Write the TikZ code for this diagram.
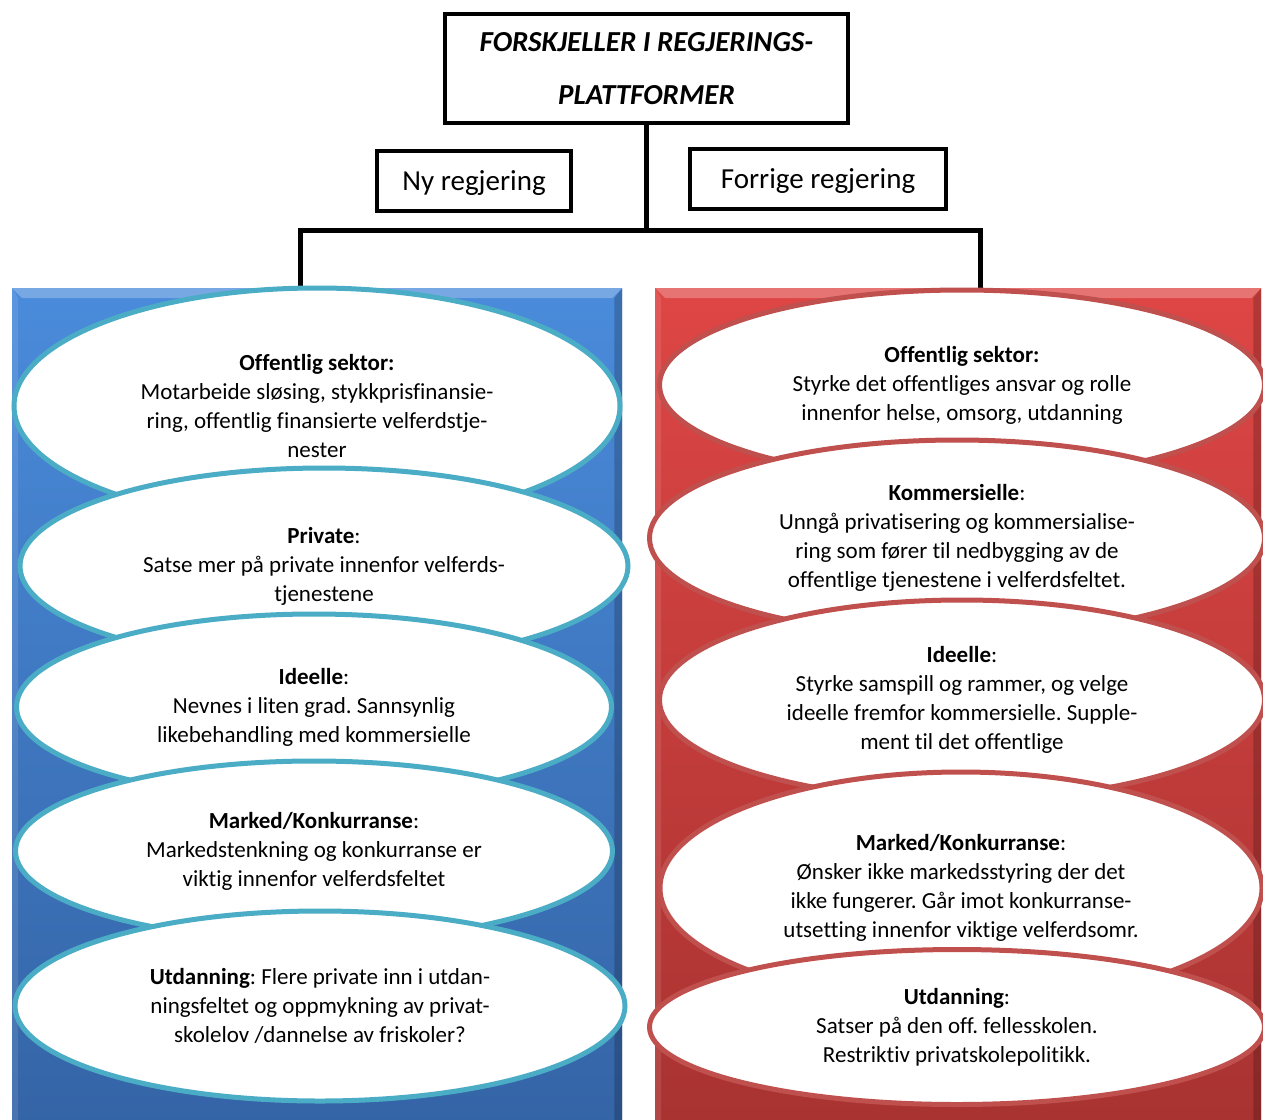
\documentclass[tikz,border=0pt]{standalone}
\usepackage{fontspec}
\setmainfont{Carlito}[Ligatures=NoCommon]
\usetikzlibrary{positioning, shapes.geometric}
\frenchspacing

\definecolor{bluetop}{HTML}{4A8BDB}
\definecolor{bluebot}{HTML}{3464A6}
\definecolor{redtop}{HTML}{DE4645}
\definecolor{redbot}{HTML}{A83331}
\definecolor{cyanline}{HTML}{4BACC6}
\definecolor{redline}{HTML}{C0504D}

\begin{document}
\begin{tikzpicture}[
			x=1pt, y=-1pt,
			every node/.style={font=\fontsize{23}{29}\selectfont},
			panel/.style={minimum height=840, anchor=north west, inner sep=0pt},
			bubble/.style={ellipse, fill=white, line width=5pt, align=center, inner sep=0pt},
			lell/.style={bubble, draw=cyanline},
			rell/.style={bubble, draw=redline},
			hdr/.style={draw, line width=4pt, minimum height=60, text depth=0pt, font=\fontsize{29}{35}\selectfont},
			conn/.style={line width=5pt}
		]
		\useasboundingbox (0,0) rectangle (1263,1119);
		% the two columns
		\node[panel, minimum width=610, top color=bluetop, bottom color=bluebot] (blue) at (12,288) {};
		\node[panel, minimum width=606, top color=redtop, bottom color=redbot] (red) at (655,288) {};
		\foreach \p in {blue,red} {
			\fill[white, opacity=0.25] (\p.north west) -- (\p.north east) -- ([shift={(-10,10)}]\p.north east) -- ([shift={(10,10)}]\p.north west) -- cycle;
			\fill[black, opacity=0.2] (\p.north east) -- (\p.south east) -- ([shift={(-8,-8)}]\p.south east) -- ([shift={(-8,10)}]\p.north east) -- cycle;
			\fill[white, opacity=0.1] (\p.north west) -- (\p.south west) -- ([shift={(6,-6)}]\p.south west) -- ([shift={(6,10)}]\p.north west) -- cycle;
		}

		% heading
		\node[hdr, minimum width=403, minimum height=109, font=\fontsize{29}{53}\selectfont\bfseries\itshape, align=center] (title) at (646.5,68) {FORSKJELLER I REGJERINGS-\\PLATTFORMER};
		\node[hdr, minimum width=194] (ny) at (474,181) {Ny regjering};
		\node[hdr, minimum width=256] (forrige) at (818,179) {Forrige regjering};

		\coordinate (bar) at (643,230);
		\draw[conn] (title.south) -- (title.south |- bar);
		\draw[conn] ([xshift=-17pt]blue.north) |- (bar) -| ([xshift=22pt]red.north);

		% ny regjering
		\node[lell, minimum width=606, minimum height=236] (l1) at (317,406) {\textbf{Offentlig sektor:}\\Motarbeide sløsing, stykkprisfinansie-\\ring, offentlig finansierte velferdstje-\\nester};
		\node[lell, minimum width=608, minimum height=196] (l2) at (324,566) {\textbf{Private}:\\Satse mer på private innenfor velferds-\\tjenestene};
		\node[lell, minimum width=595, minimum height=186] (l3) at (314,707) {\textbf{Ideelle}:\\Nevnes i liten grad. Sannsynlig\\likebehandling med kommersielle};
		\node[lell, minimum width=597, minimum height=180] (l4) at (314,851) {\textbf{Marked/Konkurranse}:\\Markedstenkning og konkurranse er\\viktig innenfor velferdsfeltet};
		\node[lell, minimum width=610, minimum height=190] (l5) at (320,1006) {\textbf{Utdanning}: Flere private inn i utdan-\\ningsfeltet og oppmykning av privat-\\skolelov /dannelse av friskoler?};

		% forrige regjering
		\node[rell, minimum width=605, minimum height=190] (r1) at (962,385) {\textbf{Offentlig sektor:}\\Styrke det offentliges ansvar og rolle\\innenfor helse, omsorg, utdanning};
		\node[rell, minimum width=615, minimum height=196] (r2) at (957,538) {\textbf{Kommersielle}:\\Unngå privatisering og kommersialise-\\ring som fører til nedbygging av de\\offentlige tjenestene i velferdsfeltet.};
		\node[rell, minimum width=605, minimum height=200] (r3) at (962,700) {\textbf{Ideelle}:\\ Styrke samspill og rammer, og velge\\ideelle fremfor kommersielle. Supple-\\ment til det offentlige};
		\node[rell, minimum width=602, minimum height=232] (r4) at (961,888) {\textbf{Marked/Konkurranse}:\\Ønsker ikke markedsstyring der det\\ikke fungerer. Går imot konkurranse-\\utsetting innenfor viktige velferdsomr.};
		\node[rell, minimum width=615, minimum height=155] (r5) at (957,1027) {\textbf{Utdanning}:\\Satser på den off. fellesskolen.\\Restriktiv privatskolepolitikk.};
	\end{tikzpicture}
\end{document}
